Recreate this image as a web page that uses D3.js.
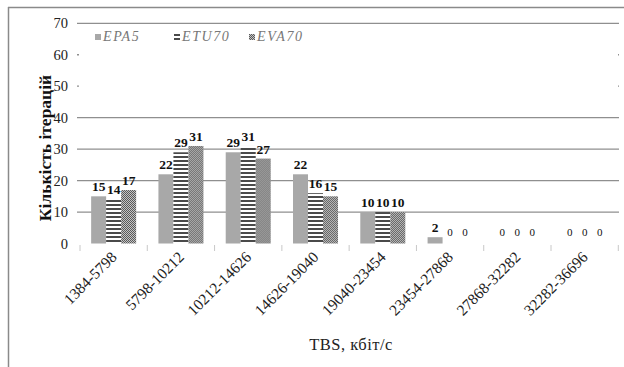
<!DOCTYPE html>
<html>
<head>
<meta charset="utf-8">
<script src="https://cdn.jsdelivr.net/npm/d3@7"></script>
<style>
  html, body { margin: 0; padding: 0; background: #fff; }
  svg { display: block; font-family: "Liberation Serif", "Times New Roman", serif; }
</style>
</head>
<body>
<svg id="chart" width="624" height="367"></svg>
<script>
// TBS ranges (kbit/s) and iteration counts per algorithm
const categories = ["1384-5798", "5798-10212", "10212-14626", "14626-19040",
                    "19040-23454", "23454-27868", "27868-32282", "32282-36696"];
const seriesNames = ["EPA5", "ETU70", "EVA70"];
const epa5  = [15, 22, 29, 22, 10, 2, 0, 0];
const etu70 = [14, 29, 31, 16, 10, 0, 0, 0];
const eva70 = [17, 31, 27, 15, 10, 0, 0, 0];
const yTicks = [0, 10, 20, 30, 40, 50, 60, 70];

const seriesValues = [epa5, etu70, eva70];
const svg = d3.select("#chart");

// fill patterns
const defs = svg.append("defs");
const stripes = defs.append("pattern").attr("id", "stripes")
  .attr("patternUnits", "userSpaceOnUse").attr("width", 4).attr("height", 4);
stripes.append("rect").attr("width", 4).attr("height", 4).attr("fill", "#ffffff");
stripes.append("rect").attr("width", 4).attr("height", 2).attr("fill", "#4a4a4a");
const checker = defs.append("pattern").attr("id", "checker")
  .attr("patternUnits", "userSpaceOnUse").attr("width", 2).attr("height", 2);
checker.append("rect").attr("width", 2).attr("height", 2).attr("fill", "#c4c4c4");
checker.append("rect").attr("width", 1).attr("height", 1).attr("fill", "#5a5a5a");
checker.append("rect").attr("x", 1).attr("y", 1).attr("width", 1).attr("height", 1).attr("fill", "#5a5a5a");
const fills = ["#a8a8a8", "url(#stripes)", "url(#checker)"];

// frame lines
svg.append("line").attr("x1", 8).attr("x2", 624).attr("y1", 7.5).attr("y2", 7.5)
  .attr("stroke", "#8a8a8a").attr("stroke-width", 1.5);
svg.append("line").attr("x1", 8.5).attr("x2", 8.5).attr("y1", 7).attr("y2", 367)
  .attr("stroke", "#8a8a8a").attr("stroke-width", 1.5);

const x = d3.scaleBand().domain(categories).range([80, 618.3]).padding(0);
const sub = d3.scaleBand().domain(seriesNames)
  .range([(x.bandwidth() - 45) / 2, (x.bandwidth() + 45) / 2]).padding(0);
const y = d3.scaleLinear().domain([0, 70]).range([243.5, 23.3]);

// gridlines
svg.append("g").selectAll("line").data(yTicks.filter(d => d > 0)).join("line")
  .attr("x1", 77).attr("x2", 619)
  .attr("y1", d => y(d)).attr("y2", d => y(d))
  .attr("stroke", "#8f8f8f").attr("stroke-width", 1.3);

// legend panel sits over the upper plot area
svg.append("rect").attr("x", 79).attr("y", 26).attr("width", 539).attr("height", 88)
  .attr("fill", "#ffffff");

// y tick labels
svg.append("g").selectAll("text").data(yTicks).join("text")
  .attr("x", 68).attr("y", d => y(d)).attr("dy", "0.35em")
  .attr("text-anchor", "end").attr("font-size", 14.5).attr("fill", "#222")
  .text(d => d);

// category ticks
svg.append("g").selectAll("line").data(d3.range(categories.length + 1)).join("line")
  .attr("x1", i => 80 + i * x.bandwidth()).attr("x2", i => 80 + i * x.bandwidth())
  .attr("y1", 245).attr("y2", 251)
  .attr("stroke", "#c8c8c8").attr("stroke-width", 1);

// bars
const groups = svg.append("g").selectAll("g").data(categories).join("g")
  .attr("transform", d => `translate(${x(d)},0)`);
groups.selectAll("rect").data((c, i) => seriesNames.map((s, k) => ({ s, k, v: seriesValues[k][i] })))
  .join("rect")
  .attr("x", d => sub(d.s)).attr("width", sub.bandwidth())
  .attr("y", d => y(d.v)).attr("height", d => y(0) - y(d.v))
  .attr("fill", d => fills[d.k]);

// value labels
groups.selectAll("text").data((c, i) => seriesNames.map((s, k) => ({ s, k, v: seriesValues[k][i] })))
  .join("text")
  .attr("x", d => sub(d.s) + sub.bandwidth() / 2)
  .attr("y", d => y(d.v) - (d.v === 0 ? 8 : 5))
  .attr("text-anchor", "middle")
  .attr("font-size", d => d.v === 0 ? 11 : 13.5)
  .attr("font-weight", d => d.v === 0 ? "normal" : "bold")
  .attr("fill", "#111")
  .text(d => d.v);

// category labels
svg.append("g").selectAll("text").data(categories).join("text")
  .attr("transform", d => `translate(${x(d) + x.bandwidth() / 2 + 4},258) rotate(-45)`)
  .attr("text-anchor", "end").attr("font-size", 15.5).attr("fill", "#222")
  .text(d => d);

// legend
const legendX = [95, 174, 249];
const leg = svg.append("g").selectAll("g").data(seriesNames).join("g")
  .attr("transform", (d, i) => `translate(${legendX[i]},34)`);
leg.append("rect").attr("width", 6).attr("height", 6).attr("fill", (d, i) => fills[i]);
leg.append("text").attr("x", 8).attr("y", 7).attr("font-size", 14)
  .attr("letter-spacing", 1.6)
  .attr("font-style", "italic").attr("fill", "#777").text(d => d);

// axis titles
svg.append("text").attr("transform", "translate(45,148) rotate(-90)")
  .attr("text-anchor", "middle").attr("dy", "0.35em")
  .attr("font-size", 17.5).attr("font-weight", "bold").attr("fill", "#111")
  .text("Кількість ітерацій");
svg.append("text").attr("x", 351).attr("y", 350).attr("text-anchor", "middle")
  .attr("font-size", 16.5).attr("letter-spacing", 0.5).attr("fill", "#222").text("TBS, кбіт/с");
</script>
</body>
</html>
